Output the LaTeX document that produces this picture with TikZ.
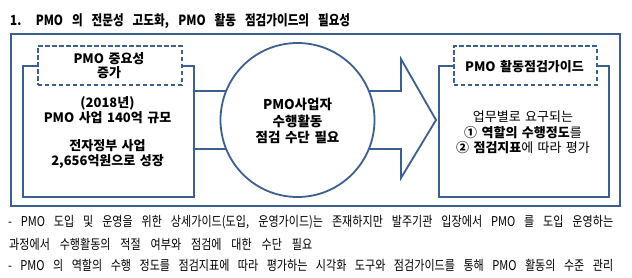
\documentclass[tikz,border=0pt]{standalone}
\usepackage{fontspec}
\setmainfont{Noto Sans CJK KR}
\newfontfamily\narrowkr[FakeStretch=0.82,WordSpace=3]{Noto Sans CJK KR}
\newfontfamily\titlekr[FakeStretch=0.83,WordSpace=2.5]{Noto Sans CJK KR}
\newfontfamily\krw[WordSpace=1.5]{Noto Sans CJK KR}
\definecolor{frame}{HTML}{3C5F8E}
\begin{document}
\begin{tikzpicture}[x=1pt,y=-1pt,
  ln/.style={draw=frame,line width=1.8pt},
  dbox/.style={draw=frame,line width=1.8pt,dash pattern=on 4.5pt off 2.5pt,fill=white},
  txt/.style={inner sep=0pt,align=center,font=\krw\fontsize{13}{15.5}\selectfont\bfseries},
  note/.style={inner sep=0pt,anchor=west,font=\narrowkr\fontsize{13.5}{14}\selectfont}]
\useasboundingbox (0,0) rectangle (632,278);
\fill[white] (0,0) rectangle (632,278);
% title
\node[inner sep=0pt,anchor=west,font=\titlekr\fontsize{14}{16}\selectfont\bfseries] (title) at (10,21.5) {\makebox[340pt][s]{1. PMO 의 전문성 고도화, PMO 활동 점검가이드의 필요성}};
% outer frame
\node[ln,minimum width=609pt,minimum height=172pt,inner sep=0pt,anchor=north west] (outer) at (10,33) {};
% left box
\node[ln,minimum width=171pt,minimum height=131pt,inner sep=0pt,anchor=north west] (lbox) at (22,65) {};
% right box
\node[ln,minimum width=170pt,minimum height=131pt,inner sep=0pt,anchor=north west] (rbox) at (438,65) {};
% arrow
\coordinate (s1) at (193,91);
\coordinate (s2) at (401,91);
\coordinate (h1) at (401,59);
\coordinate (tip) at (436,120);
\coordinate (h2) at (401,178);
\coordinate (s3) at (401,149);
\coordinate (s4) at (193,149);
\draw[ln,line join=miter] (s1) -- (s2) -- (h1) -- (tip) -- (h2) -- (s3) -- (s4);
% circle
\node[ln,circle,fill=white,minimum size=154pt,inner sep=0pt] (circ) at (297.5,120) {};
\node[txt,font=\krw\fontsize{13.5}{16.7}\selectfont\bfseries] (ctext) at (297.5,121) {PMO사업자\\수행활동\\점검 수단 필요};
% dashed boxes
\node[dbox,minimum width=144pt,minimum height=39pt,inner sep=0pt,anchor=north west] (ldash) at (37,45.5) {};
\node[txt,font=\krw\fontsize{13}{14}\selectfont\bfseries] (ldtext) at (109,66) {PMO 중요성\\증가};
\node[dbox,minimum width=143pt,minimum height=39pt,inner sep=0pt,anchor=north west] (rdash) at (453,45.5) {};
\node[txt] (rdtext) at (524.5,67) {PMO 활동점검가이드};
% left box text
\node[txt] (ltext1) at (107.5,110) {(2018년)\\PMO 사업 140억 규모};
\node[txt,font=\krw\fontsize{13}{15}\selectfont\bfseries] (ltext2) at (107.5,153.5) {전자정부 사업\\2,656억원으로 성장};
% right box text
\node[inner sep=0pt,align=center,font=\krw\fontsize{13}{15.3}\selectfont] (rtext) at (523,132.5) {업무별로 요구되는\\\textbf{① 역할의 수행정도}를\\\textbf{② 점검지표}에 따라 평가};
% notes
\node[note] (n1) at (8,222.5) {\makebox[605pt][s]{- PMO 도입 및 운영을 위한 상세가이드(도입, 운영가이드)는 존재하지만 발주기관 입장에서 PMO 를 도입 운영하는}};
\node[note] (n2) at (9,244) {\makebox[303pt][s]{과정에서 수행활동의 적절 여부와 점검에 대한 수단 필요}};
\node[note] (n3) at (8,265) {\makebox[605pt][s]{- PMO 의 역할의 수행 정도를 점검지표에 따라 평가하는 시각화 도구와 점검가이드를 통해 PMO 활동의 수준 관리}};
\end{tikzpicture}
\end{document}
